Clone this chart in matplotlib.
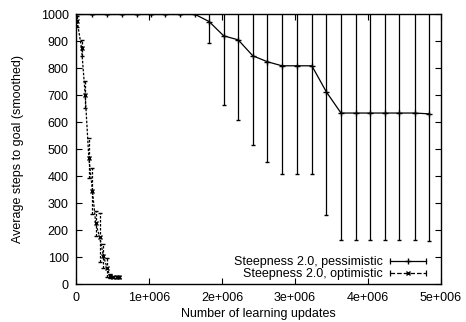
import matplotlib
matplotlib.use('Agg')
import matplotlib.pyplot as plt
from matplotlib.lines import Line2D
from matplotlib.legend_handler import HandlerBase

# pessimistic run (x in learning updates)
pessX = [0, 0.21e6, 0.42e6, 0.62e6, 0.83e6, 1.02e6, 1.22e6, 1.42e6, 1.63e6,
         1.82e6, 2.02e6, 2.22e6, 2.42e6, 2.62e6, 2.82e6, 3.03e6, 3.23e6,
         3.43e6, 3.63e6, 3.83e6, 4.03e6, 4.23e6, 4.43e6, 4.64e6, 4.84e6]
pessY = [1000, 1000, 1000, 1000, 1000, 1000, 1000, 1000, 1000,
         974, 921, 906, 847, 825, 810, 810, 810,
         713, 635, 635, 635, 635, 635, 635, 632]
pessErr = [0, 0, 0, 0, 0, 0, 0, 0, 0,
           78, 256, 295, 332, 373, 400, 400, 400,
           455, 472, 472, 472, 472, 472, 472, 470]

# optimistic run
optX = [0.01e6, 0.07e6, 0.12e6, 0.17e6, 0.22e6, 0.265e6, 0.32e6, 0.37e6,
        0.42e6, 0.46e6, 0.50e6, 0.55e6, 0.59e6]
optY = [975, 877, 703, 469, 347, 226, 175, 106, 62, 31, 29, 29, 29]
optErr = [20, 30, 50, 75, 85, 45, 90, 45, 35, 6, 4, 4, 4]

xTicks = [0, 1e6, 2e6, 3e6, 4e6, 5e6]
xTickLabels = ['0', '1e+006', '2e+006', '3e+006', '4e+006', '5e+006']
yTicks = list(range(0, 1001, 100))

labels = ['Steepness 2.0, pessimistic', 'Steepness 2.0, optimistic']
dash = (0, (2, 1.2))


class ErrorbarKey(HandlerBase):
    # gnuplot style key sample: horizontal line, end ticks, marker in the middle
    def create_artists(self, legend, orig_handle, xdescent, ydescent,
                       width, height, fontsize, trans):
        y = height / 2 - ydescent
        x0 = -xdescent
        x1 = -xdescent + width
        line = Line2D([x0, x1], [y, y], color='black', linewidth=0.9,
                      linestyle=orig_handle.get_linestyle())
        mark = Line2D([(x0 + x1) / 2], [y], color='black', linestyle='none',
                      marker=orig_handle.get_marker(),
                      markersize=orig_handle.get_markersize())
        caps = Line2D([x0, x1], [y, y], color='black', linestyle='none',
                      marker='|', markersize=4, markeredgewidth=0.9)
        for a in (line, mark, caps):
            a.set_transform(trans)
        return [line, mark, caps]


plt.rcParams['font.family'] = ['Liberation Sans', 'DejaVu Sans']
plt.rcParams['font.size'] = 9.0

fig = plt.figure(figsize=(4.66, 3.22), dpi=100)
ax = fig.add_axes([0.164, 0.1165, 0.782, 0.8385])

ax.errorbar(pessX, pessY, yerr=pessErr, color='black', linewidth=0.9,
            elinewidth=0.9, capsize=1.5, marker='+', markersize=4)
opt = ax.errorbar(optX, optY, yerr=optErr, color='black', linewidth=0.9,
                  linestyle=dash, elinewidth=0.9, capsize=1.5,
                  marker='x', markersize=3.5)
# dashed error bars for optimistic run
opt[2][0].set_linestyle(dash)

ax.set_xlim(0, 5e6)
ax.set_ylim(0, 1000)
ax.set_xticks(xTicks)
ax.set_xticklabels(xTickLabels)
ax.set_yticks(yTicks)
ax.tick_params(direction='in', top=True, right=True, length=4, width=0.8, pad=5.5)
for s in ax.spines.values():
    s.set_linewidth(1.0)

ax.set_xlabel('Number of learning updates', labelpad=3)
ax.set_ylabel('Average steps to goal (smoothed)', labelpad=12)

pessKey = Line2D([], [], linestyle='-', marker='+', markersize=4)
optKey = Line2D([], [], linestyle=dash, marker='x', markersize=3.5)
ax.legend([pessKey, optKey], labels,
          handler_map={Line2D: ErrorbarKey()},
          loc='lower right', frameon=False, markerfirst=False, handlelength=2.9,
          borderaxespad=0.0, borderpad=0.0, labelspacing=0.0, handletextpad=0.6,
          bbox_to_anchor=(0.96, 0.015))

fig.savefig('out.png', dpi=100)
